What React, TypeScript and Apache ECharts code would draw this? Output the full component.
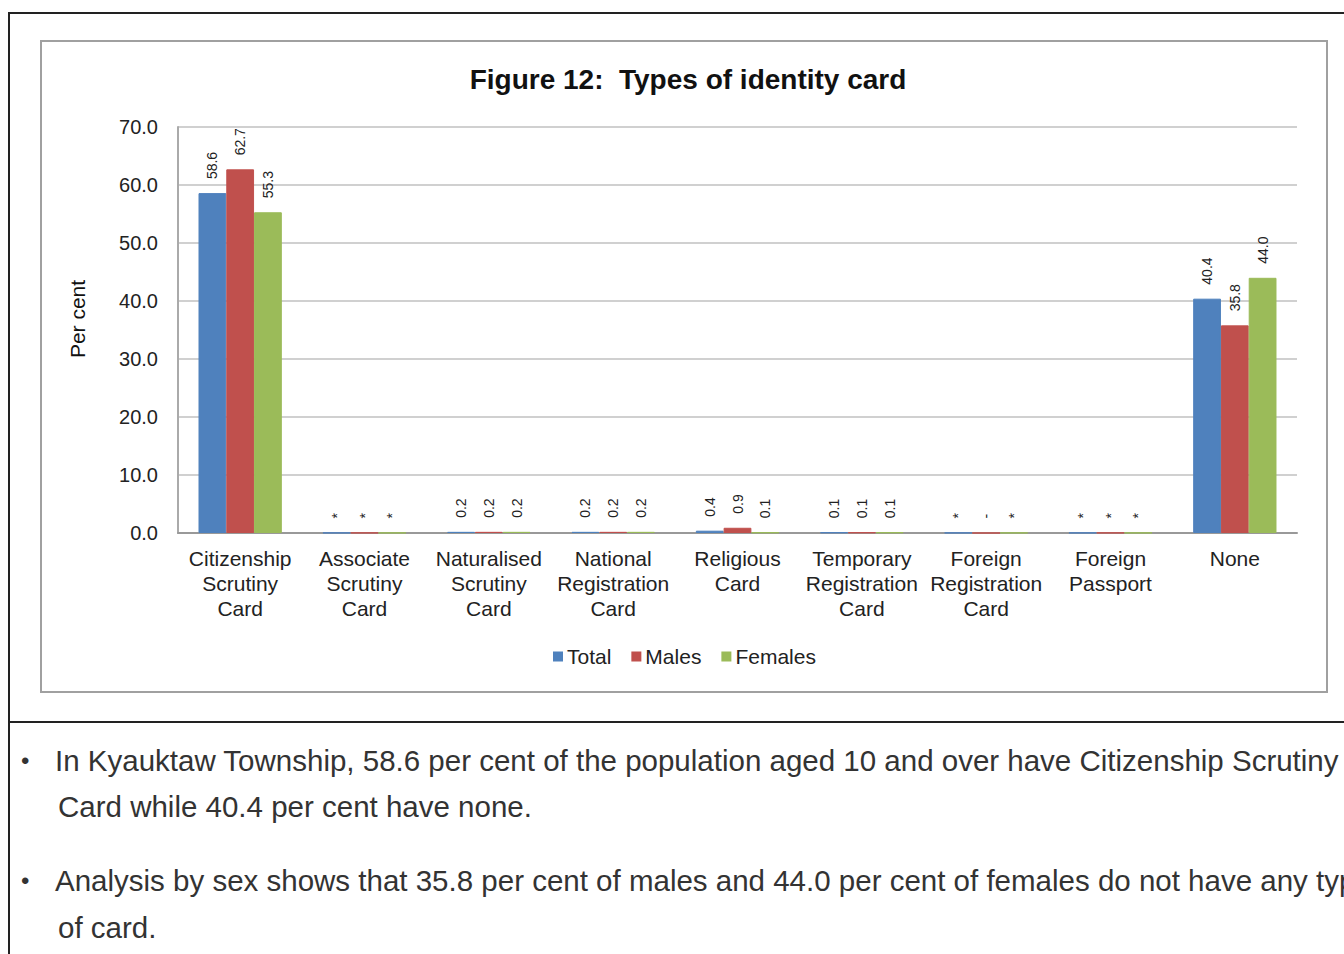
import React, { useEffect, useRef } from "react";
import * as echarts from "echarts";

const categories = [
  "Citizenship\nScrutiny\nCard",
  "Associate\nScrutiny\nCard",
  "Naturalised\nScrutiny\nCard",
  "National\nRegistration\nCard",
  "Religious\nCard",
  "Temporary\nRegistration\nCard",
  "Foreign\nRegistration\nCard",
  "Foreign\nPassport",
  "None",
];
// 0.04 stands for "*" (less than 0.05), 0 for "-"
const totalValues = [58.6, 0.04, 0.2, 0.2, 0.4, 0.1, 0.04, 0.04, 40.4];
const maleValues = [62.7, 0.04, 0.2, 0.2, 0.9, 0.1, 0, 0.04, 35.8];
const femaleValues = [55.3, 0.04, 0.2, 0.2, 0.1, 0.1, 0.04, 0.04, 44.0];
const seriesNames = ["Total", "Males", "Females"];
const colors = ["#4F81BD", "#C0504D", "#9BBB59"];
const yTicks = { min: 0, max: 70, interval: 10 };
const title = "Figure 12:  Types of identity card";
const yName = "Per cent";
const bullets = [
  ["In Kyauktaw Township, 58.6 per cent of the population aged 10 and over have Citizenship Scrutiny", "Card while 40.4 per cent have none."],
  ["Analysis by sex shows that 35.8 per cent of males and 44.0 per cent of females do not have any type", "of card."],
];

const fmt = (v: number) => (v === 0 ? "-" : v < 0.05 ? "*" : v.toFixed(1));

export default function App() {
  const ref = useRef<HTMLDivElement>(null);
  useEffect(() => {
    if (!ref.current) return;
    const chart = echarts.init(ref.current, null, { renderer: "svg" });
    const data = [totalValues, maleValues, femaleValues];
    const textFont = "'Liberation Sans', Arial, sans-serif";
    const graphic: any[] = [
      // outer frame
      { type: "line", shape: { x1: 9, y1: 13, x2: 1344, y2: 13 }, style: { stroke: "#222", lineWidth: 2 } },
      { type: "line", shape: { x1: 9, y1: 12, x2: 9, y2: 954 }, style: { stroke: "#222", lineWidth: 2 } },
      { type: "line", shape: { x1: 9, y1: 722, x2: 1344, y2: 722 }, style: { stroke: "#222", lineWidth: 2 } },
      // chart box
      { type: "rect", shape: { x: 41, y: 41, width: 1286, height: 651 }, style: { fill: "none", stroke: "#a0a0a0", lineWidth: 2 } },
      {
        type: "text", x: 77, y: 319, rotation: Math.PI / 2,
        style: { text: yName, font: `21px ${textFont}`, fill: "#111", align: "center", verticalAlign: "middle" },
      },
    ];
    const lineYs = [[760, 806], [880, 927]];
    bullets.forEach((b, i) => {
      graphic.push({ type: "text", x: 21, y: lineYs[i][0], style: { text: "•", font: `24px ${textFont}`, fill: "#333", verticalAlign: "middle" } });
      graphic.push({ type: "text", x: 55, y: lineYs[i][0], style: { text: b[0], font: `29.5px ${textFont}`, fill: "#333", verticalAlign: "middle" } });
      graphic.push({ type: "text", x: 58, y: lineYs[i][1], style: { text: b[1], font: `29.5px ${textFont}`, fill: "#333", verticalAlign: "middle" } });
    });
    chart.setOption({
      animation: false,
      backgroundColor: "#fff",
      color: colors,
      title: {
        text: title, left: 683, top: 60, textAlign: "center",
        textStyle: { fontFamily: textFont, fontWeight: "bold", fontSize: 28, color: "#111" },
      },
      legend: {
        data: seriesNames, left: 548, top: 641, itemWidth: 8, itemHeight: 8, itemGap: 20,
        icon: "rect",
        textStyle: { fontFamily: textFont, fontSize: 21, color: "#222" },
      },
      grid: { left: 178, right: 47, top: 127, bottom: 421 },
      xAxis: {
        type: "category", data: categories,
        axisLine: { lineStyle: { color: "#999", width: 2 } },
        axisTick: { show: false },
        axisLabel: { interval: 0, margin: 13, fontFamily: textFont, fontSize: 21, color: "#222", lineHeight: 25 },
      },
      yAxis: {
        type: "value", min: yTicks.min, max: yTicks.max, interval: yTicks.interval,
        axisLine: { show: true, lineStyle: { color: "#aaa", width: 2 } },
        axisTick: { show: false },
        splitLine: { lineStyle: { color: "#d0d0d0", width: 2 } },
        axisLabel: { margin: 20, fontFamily: textFont, fontSize: 20, color: "#222", formatter: (v: number) => v.toFixed(1) },
      },
      series: seriesNames.map((n, i) => ({
        name: n, type: "bar", data: data[i], barGap: "0%", barCategoryGap: "33%",
        itemStyle: { color: colors[i], borderColor: colors[i], borderWidth: 1 },
        label: {
          show: true, position: "top", rotate: 90, align: "left", verticalAlign: "middle", distance: 14,
          fontFamily: textFont, fontSize: 14, color: "#222",
          formatter: (p: any) => fmt(p.value),
        },
      })),
      graphic,
    });
    return () => chart.dispose();
  }, []);
  return <div ref={ref} style={{ position: "fixed", left: 0, top: 0, width: 1344, height: 954 }} />;
}
